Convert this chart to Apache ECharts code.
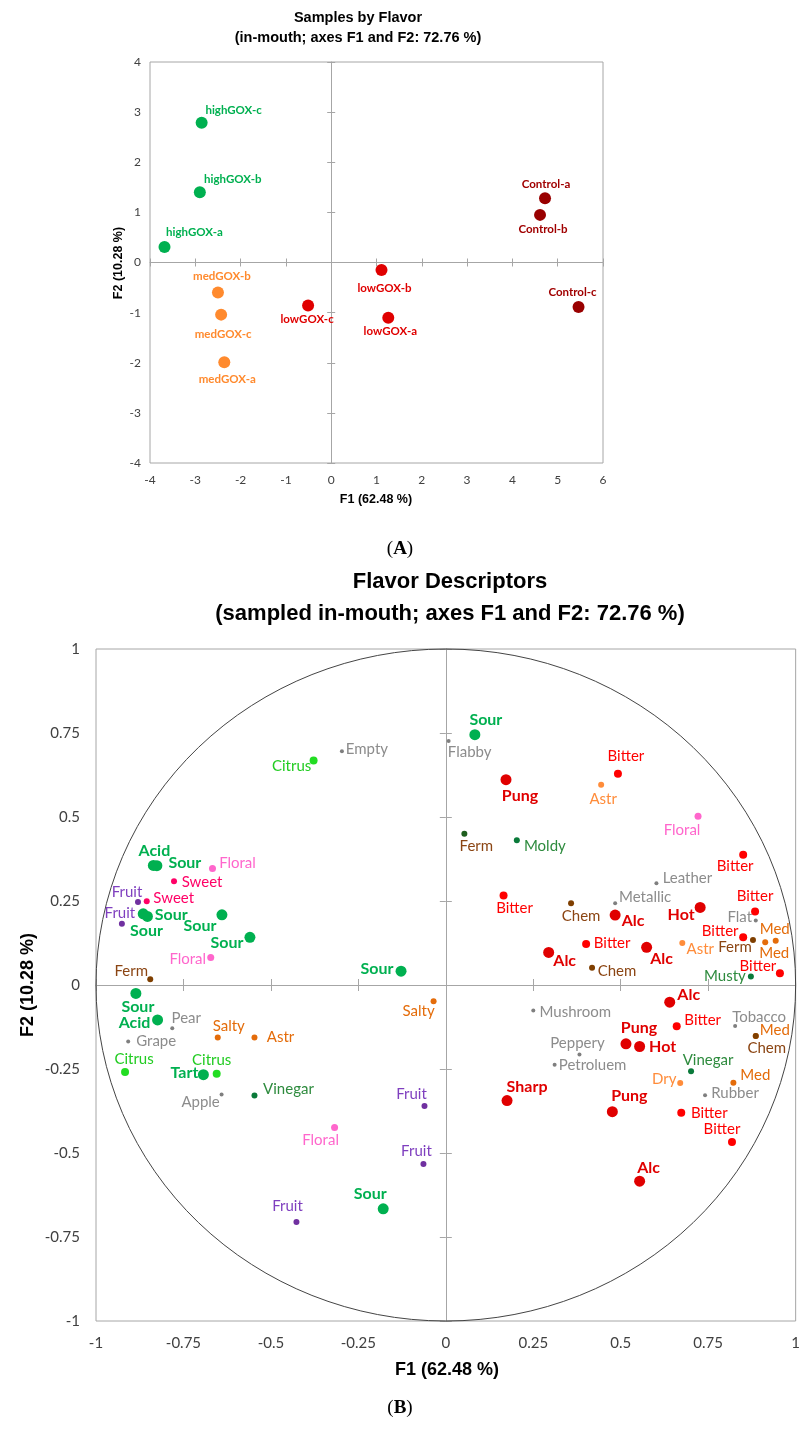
<!DOCTYPE html>
<html><head><meta charset="utf-8">
<script src="https://cdn.jsdelivr.net/npm/echarts@6/dist/echarts.min.js"></script>
<style>html,body{margin:0;padding:0;background:#fff}#c{width:803px;height:1432px}</style>
</head><body><div id="c"></div>
<script>
// ---------- Chart A data (samples) ----------
const sampleNames = ['highGOX-a','highGOX-b','highGOX-c','medGOX-a','medGOX-b','medGOX-c','lowGOX-a','lowGOX-b','lowGOX-c','Control-a','Control-b','Control-c'];
const sampleF1 = [-3.68,-2.90,-2.86,-2.36,-2.50,-2.43,1.26,1.11,-0.51,4.72,4.61,5.46];
const sampleF2 = [0.31,1.40,2.79,-1.99,-0.60,-1.04,-1.10,-0.15,-0.86,1.28,0.95,-0.89];
const sampleGroup = ['high','high','high','med','med','med','low','low','low','control','control','control'];
const ticksA_F1 = [-4,-3,-2,-1,0,1,2,3,4,5,6];
const ticksA_F2 = [-4,-3,-2,-1,0,1,2,3,4];

// ---------- Chart B data (descriptors) ----------
const descNames = ['Empty','Citrus','Flabby','Sour','Bitter','Pung','Astr','Floral','Ferm','Moldy',
 'Bitter','Leather','Bitter','Chem','Metallic','Alc','Hot','Bitter','Flat','Bitter',
 'Alc','Chem','Astr','Bitter','Ferm','Med','Med','Bitter','Musty','Alc',
 'Alc','Mushroom','Bitter','Tobacco','Med','Chem','Pung','Hot','Peppery','Petroluem',
 'Vinegar','Dry','Med','Rubber','Sharp','Pung','Bitter','Bitter','Alc','Sour',
 'Sour','Floral','Ferm','Sour','Acid','Pear','Grape','Salty','Astr','Salty',
 'Citrus','Tart','Citrus','Apple','Vinegar','Fruit','Floral','Fruit','Sour','Fruit',
 'Acid','Sour','Floral','Sweet','Fruit','Sweet','Sour','Sour','Fruit','Sour'];
const descF1 = [-0.297,-0.378,0.008,0.083,0.492,0.172,0.444,0.721,0.053,0.203,
 0.850,0.602,0.165,0.358,0.484,0.484,0.727,0.884,0.886,0.401,
 0.574,0.418,0.676,0.850,0.878,0.913,0.943,0.955,0.872,0.294,
 0.640,0.250,0.660,0.827,0.886,0.886,0.515,0.554,0.382,0.311,
 0.701,0.670,0.822,0.741,0.175,0.476,0.673,0.818,0.554,-0.128,
 -0.560,-0.672,-0.845,-0.886,-0.824,-0.782,-0.908,-0.652,-0.547,-0.035,
 -0.917,-0.693,-0.655,-0.641,-0.547,-0.061,-0.318,-0.064,-0.179,-0.427,
 -0.836,-0.826,-0.667,-0.777,-0.880,-0.855,-0.865,-0.853,-0.926,-0.640];
const descF2 = [0.696,0.668,0.726,0.745,0.629,0.611,0.596,0.502,0.450,0.431,
 0.388,0.303,0.266,0.243,0.243,0.208,0.231,0.219,0.192,0.122,
 0.112,0.051,0.125,0.142,0.134,0.127,0.132,0.035,0.025,0.097,
 -0.051,-0.076,-0.123,-0.122,-0.152,-0.152,-0.175,-0.183,-0.207,-0.237,
 -0.257,-0.292,-0.291,-0.328,-0.344,-0.377,-0.380,-0.467,-0.584,0.041,
 0.142,0.082,0.017,-0.025,-0.104,-0.129,-0.168,-0.156,-0.156,-0.048,
 -0.259,-0.267,-0.264,-0.326,-0.329,-0.360,-0.424,-0.533,-0.666,-0.705,
 0.356,0.355,0.347,0.309,0.247,0.249,0.212,0.204,0.182,0.209];
const descGroup = ['gray','citrus','gray','sour','bitter','red','astr','pink','fermG','dkgreen',
 'bitter','gray','bitter','brown','gray','red','red','bitter','gray','bitter',
 'red','brown','astr','bitter','brown','orange','orange','bitter','dkgreen','red',
 'red','gray','bitter','gray','orange','brown','red','red','gray','gray',
 'dkgreen','astr','orange','gray','red','red','bitter','bitter','red','sour',
 'sour','pink','brown','sour','sour','gray','gray','orange','orange','orange',
 'citrus','sour','citrus','gray','dkgreen','purple','pink','purple','sour','purple',
 'sour','sour','pink','sweet','purple','sweet','sour','sour','purple','sour'];
const ticksB = [-1,-0.75,-0.5,-0.25,0,0.25,0.5,0.75,1];
const circleRadius = 1;

// ---------- layout / style (not data) ----------
const sampleLabelOffsets = [[30,-15],[33,-13],[32,-12],[3,17],[4,-16],[2,20],[2,14],[3,18],[-1,14],[1,-14],[3,14],[-6,-15]];
const descLabelOffsets = [[25,-2],[-22,6],[21,11],[11,-15],[8,-17],[14,16],[2,14],[-16,14],[12,12],[28,6],
 [-8,12],[31,-5],[11,13],[10,13],[30,-6],[18,6],[-19,7],[0,-15],[-16,-3],[26,-1],
 [15,11],[25,3],[18,6],[-23,-6],[-18,7],[9,11],[-1,-11],[-22,-7],[-26,0],[16,8],
 [19,-7],[42,2],[26,-6],[24,-9],[19,-6],[11,12],[13,-16],[23,0],[-2,-11],[38,1],
 [17,-11],[-16,-4],[22,-8],[30,-2],[20,-14],[17,-16],[28,0],[-10,-13],[9,-13],[-24,-2],
 [-23,6],[-23,2],[-19,-8],[2,13],[-23,3],[14,-10],[28,0],[11,-11],[26,0],[-15,10],
 [9,-13],[-19,-2],[-5,-14],[-21,8],[34,-6],[-13,-12],[-14,13],[-7,-13],[-13,-15],[-9,-16],
 [1,-15],[28,-3],[25,-5],[28,1],[-11,-10],[27,-3],[28,1],[-1,14],[-2,-11],[-22,11]];
const sampleStyle = {
  high:{color:'#00B050',label:'#00B050'},
  med:{color:'#FF8A2E',label:'#FF8A2E'},
  low:{color:'#E00000',label:'#E00000'},
  control:{color:'#990000',label:'#A00000'}
};
const descStyle = {
  sour:{color:'#00B050',size:11,label:'#00B050',bold:true},
  red:{color:'#E00000',size:11,label:'#E00000',bold:true},
  bitter:{color:'#FF0000',size:8,label:'#FF0000'},
  gray:{color:'#7F7F7F',size:4,label:'#8C8C8C'},
  astr:{color:'#FF8C3A',size:6,label:'#FF8C3A'},
  orange:{color:'#E46C0A',size:6,label:'#E46C0A'},
  brown:{color:'#7F3F00',size:6,label:'#8B4513'},
  fermG:{color:'#1E5E1E',size:6,label:'#8B4513'},
  pink:{color:'#FF66CC',size:7,label:'#FF66CC'},
  sweet:{color:'#FF0066',size:6,label:'#FF0066'},
  purple:{color:'#7030A0',size:6,label:'#7F3FBF'},
  citrus:{color:'#22DD22',size:8,label:'#22CC22'},
  dkgreen:{color:'#0A7A3A',size:6,label:'#2E8B3E'}
};
const FONT = 'Lato';
const AXIS_COLOR = '#A6A6A6';

function axisSet(dim, gridIndex, ticks, labelCfg, tickLen, otherIdx) {
  const base = {type:'value', gridIndex:gridIndex, min:ticks[0], max:ticks[ticks.length-1],
    interval:ticks[1]-ticks[0], splitLine:{show:false}, position: dim==='x'?'bottom':'left'};
  return [
    Object.assign({}, base, {axisLine:{show:false,onZero:false}, axisTick:{show:false}, axisLabel:labelCfg}),
    Object.assign({}, base, {axisLine:{show:true,onZero:true,onZeroAxisIndex:otherIdx,lineStyle:{color:AXIS_COLOR,width:1}},
      axisTick:{show:true,inside:false,length:tickLen,lineStyle:{color:AXIS_COLOR}}, axisLabel:{show:false}}),
    Object.assign({}, base, {axisLine:{show:false,onZero:true,onZeroAxisIndex:otherIdx},
      axisTick:{show:true,inside:true,length:tickLen,lineStyle:{color:AXIS_COLOR}}, axisLabel:{show:false}})
  ];
}

const labA = {color:'#404040', fontFamily:FONT, fontSize:12};
const labB = {color:'#404040', fontFamily:FONT, fontSize:15};
const xAxes = [].concat(
  axisSet('x',0,ticksA_F1,Object.assign({margin:11},labA),4,0),
  axisSet('x',1,ticksB,Object.assign({margin:15},labB),6,3));
const yAxes = [].concat(
  axisSet('y',0,ticksA_F2,Object.assign({margin:9},labA),4,0),
  axisSet('y',1,ticksB,Object.assign({margin:16},labB),6,3));

const sampleData = sampleNames.map((n,i)=>{
  const st = sampleStyle[sampleGroup[i]];
  return {name:n, value:[sampleF1[i], sampleF2[i]], itemStyle:{color:st.color, opacity:1},
    label:{show:true, position:'inside', offset:sampleLabelOffsets[i], formatter:'{b}',
      color:st.label, fontFamily:FONT, fontSize:11.5, fontWeight:'bold'}};
});
const descData = descNames.map((n,i)=>{
  const st = descStyle[descGroup[i]];
  return {name:n, value:[descF1[i], descF2[i]], symbolSize:st.size, itemStyle:{color:st.color, opacity:1},
    label:{show:true, position:'inside', offset:descLabelOffsets[i], formatter:'{b}',
      color:st.label, fontFamily:FONT, fontSize: st.bold?16:15, fontWeight: st.bold?'bold':'normal'}};
});

function txt(x,y,text,font,rot){
  return {type:'text', x:x, y:y, rotation:rot||0, silent:true,
    style:{text:text, font:font, fill:'#000', textAlign:'center', textVerticalAlign:'middle', align:'center', verticalAlign:'middle'}};
}
const TF = '"Liberation Sans", Arial, sans-serif';

const option = {
  animation:false,
  backgroundColor:'#fff',
  grid:[
    {left:150, top:62, width:453, height:401, show:true, borderColor:AXIS_COLOR, borderWidth:1, backgroundColor:'transparent'},
    {left:96, top:649, width:702, height:672, show:true, borderColor:AXIS_COLOR, borderWidth:1, backgroundColor:'transparent'}
  ],
  xAxis:xAxes,
  yAxis:yAxes,
  graphic:[
    txt(358,18,'Samples by Flavor','bold 14.5px '+TF),
    txt(358,38,'(in-mouth; axes F1 and F2: 72.76 %)','bold 14.5px '+TF),
    txt(376,500,'F1 (62.48 %)','bold 12.5px '+TF),
    txt(119,263,'F2 (10.28 %)','bold 12.5px '+TF,Math.PI/2),
    {type:'text', x:400, y:549, silent:true, style:{text:'({b|A})', font:'19px "Liberation Serif", serif', fill:'#000', textAlign:'center', textVerticalAlign:'middle', align:'center', verticalAlign:'middle', rich:{b:{fontWeight:'bold', fontSize:19, fontFamily:'Liberation Serif'}}}},
    txt(450,582,'Flavor Descriptors','bold 22px '+TF),
    txt(450,614,'(sampled in-mouth; axes F1 and F2: 72.76 %)','bold 22px '+TF),
    txt(447,1370,'F1 (62.48 %)','bold 18px '+TF),
    txt(28,985,'F2 (10.28 %)','bold 18px '+TF,Math.PI/2),
    {type:'text', x:400, y:1408, silent:true, style:{text:'({b|B})', font:'19px "Liberation Serif", serif', fill:'#000', textAlign:'center', textVerticalAlign:'middle', align:'center', verticalAlign:'middle', rich:{b:{fontWeight:'bold', fontSize:19, fontFamily:'Liberation Serif'}}}}
  ],
  series:[
    {type:'scatter', xAxisIndex:0, yAxisIndex:0, symbolSize:12, data:sampleData, itemStyle:{opacity:1}, emphasis:{disabled:true}, z:5},
    {type:'custom', xAxisIndex:3, yAxisIndex:3, data:[[0,0]], silent:true, z:3,
      renderItem:function(params, api){
        const c = api.coord([0,0]);
        const s = api.size([2*circleRadius, 2*circleRadius]);
        const rx = s[0]/2, ry = s[1]/2;
        return {type:'circle', x:c[0], y:c[1], scaleY:ry/rx, shape:{cx:0,cy:0,r:rx},
          style:{fill:'none', stroke:'#404040', lineWidth:1, strokeNoScale:true}};
      }},
    {type:'scatter', xAxisIndex:3, yAxisIndex:3, data:descData, itemStyle:{opacity:1}, emphasis:{disabled:true}, z:5}
  ]
};
const chart = echarts.init(document.getElementById('c'));
chart.setOption(option);
</script></body></html>
